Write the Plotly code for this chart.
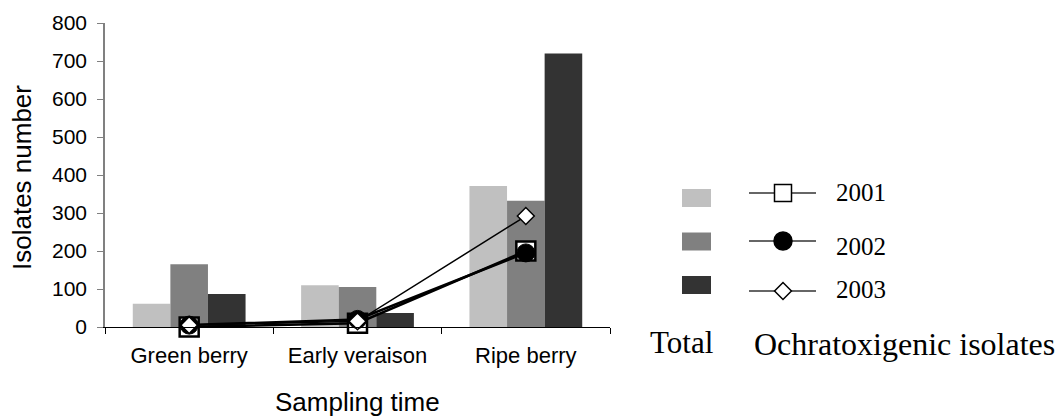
import plotly.graph_objects as go

categories = ["Green berry", "Early veraison", "Ripe berry"]
years = ["2001", "2002", "2003"]
total_2001 = [61, 110, 371]
total_2002 = [165, 105, 332]
total_2003 = [87, 37, 720]
ochra_2001 = [0, 10, 200]
ochra_2002 = [5, 20, 195]
ochra_2003 = [5, 15, 292]
y_ticks = [0, 100, 200, 300, 400, 500, 600, 700, 800]

bar_colors = ["#C0C0C0", "#808080", "#333333"]
W, H = 1061, 417
SANS = "Liberation Sans, Arial, sans-serif"
SERIF = "Liberation Serif, Times New Roman, serif"

# legend layout (pixel positions in the figure)
swatch_y = [198, 241.5, 285]
glyph_y = [193, 241, 291]
label_y = [192.5, 246, 289.5]

fig = go.Figure()
for vals, c, y in zip([total_2001, total_2002, total_2003], bar_colors, years):
    fig.add_trace(go.Bar(x=categories, y=vals, marker=dict(color=c, line=dict(width=0)),
                         name="Total " + y, showlegend=False))

line_specs = [
    (ochra_2001, dict(symbol="square", size=19, color="white", line=dict(color="black", width=2.5)), 2.5),
    (ochra_2002, dict(symbol="circle", size=18, color="black", line=dict(color="black", width=1)), 2.5),
    (ochra_2003, dict(symbol="diamond", size=13, color="white", line=dict(color="black", width=1.5)), 1.5),
]
for (vals, mk, lw), y in zip(line_specs, years):
    fig.add_trace(go.Scatter(x=categories, y=vals, mode="lines+markers", marker=mk,
                             line=dict(color="black", width=lw), name="Ochratoxigenic " + y,
                             showlegend=False, cliponaxis=False))

# legend glyphs on a hidden full-figure axis (pixel units)
for i, (vals, mk, lw) in enumerate(line_specs):
    fig.add_shape(type="rect", xref="x2", yref="y2", x0=682, x1=711,
                  y0=swatch_y[i] - 9, y1=swatch_y[i] + 9,
                  fillcolor=bar_colors[i], line=dict(width=0))
    gy = glyph_y[i]
    fig.add_trace(go.Scatter(x=[749, 783, 816], y=[gy, gy, gy], xaxis="x2", yaxis="y2",
                             mode="lines", line=dict(color="#333333", width=1.3),
                             showlegend=False, hoverinfo="skip"))
    lmk = dict(mk)
    lmk["line"] = dict(color="black", width=1.5)
    lmk["size"] = {"square": 17, "circle": 18, "diamond": 13}[mk["symbol"]]
    fig.add_trace(go.Scatter(x=[783], y=[gy], xaxis="x2", yaxis="y2", mode="markers",
                             marker=lmk, showlegend=False, hoverinfo="skip"))
    fig.add_annotation(x=834, y=label_y[i], xref="x2", yref="y2", text=years[i],
                       showarrow=False, xanchor="left", yanchor="middle",
                       font=dict(family=SERIF, size=25, color="black"))

fig.add_annotation(x=648, y=342, xref="x2", yref="y2", text="Total", showarrow=False,
                   xanchor="left", yanchor="middle", font=dict(family=SERIF, size=31, color="black"))
fig.add_annotation(x=752, y=344, xref="x2", yref="y2", text="Ochratoxigenic isolates", showarrow=False,
                   xanchor="left", yanchor="middle", font=dict(family=SERIF, size=32, color="black"))

# axis titles
fig.add_annotation(x=22, y=178, xref="x2", yref="y2", text="Isolates number", showarrow=False,
                   textangle=-90, xanchor="center", yanchor="middle",
                   font=dict(family=SANS, size=26, color="black"))
fig.add_annotation(x=357, y=402, xref="x2", yref="y2", text="Sampling time", showarrow=False,
                   xanchor="center", yanchor="middle", font=dict(family=SANS, size=26, color="black"))

fig.update_layout(
    width=W, height=H,
    margin=dict(l=0, r=0, t=0, b=0),
    paper_bgcolor="white", plot_bgcolor="rgba(0,0,0,0)",
    barmode="group", bargap=0.33, bargroupgap=0,
    font=dict(family=SANS, color="black"),
    xaxis=dict(domain=[105 / W, 610 / W], anchor="y", type="category", automargin=False,
               showline=True, linecolor="black", linewidth=1.2,
               ticks="outside", tickson="boundaries", ticklen=6, tickcolor="black",
               tickfont=dict(family=SANS, size=22, color="black"), ticklabelstandoff=8,
               showgrid=False, zeroline=False, fixedrange=True),
    yaxis=dict(domain=[(H - 327) / H, (H - 23) / H], anchor="x", range=[0, 800], automargin=False,
               tickvals=y_ticks, showline=True, linecolor="#808080", linewidth=1.5,
               ticks="outside", ticklen=6, tickcolor="#808080",
               tickfont=dict(family=SANS, size=21, color="black"), ticklabelstandoff=6,
               showgrid=False, zeroline=False, fixedrange=True),
    xaxis2=dict(domain=[0, 1], anchor="y2", range=[0, W], visible=False, automargin=False,
                fixedrange=True),
    yaxis2=dict(domain=[0, 1], anchor="x2", range=[H, 0], visible=False, automargin=False,
                fixedrange=True),
)

fig.write_html("out.html", config={"displayModeBar": False},
               post_script="document.body.style.margin='0';")
